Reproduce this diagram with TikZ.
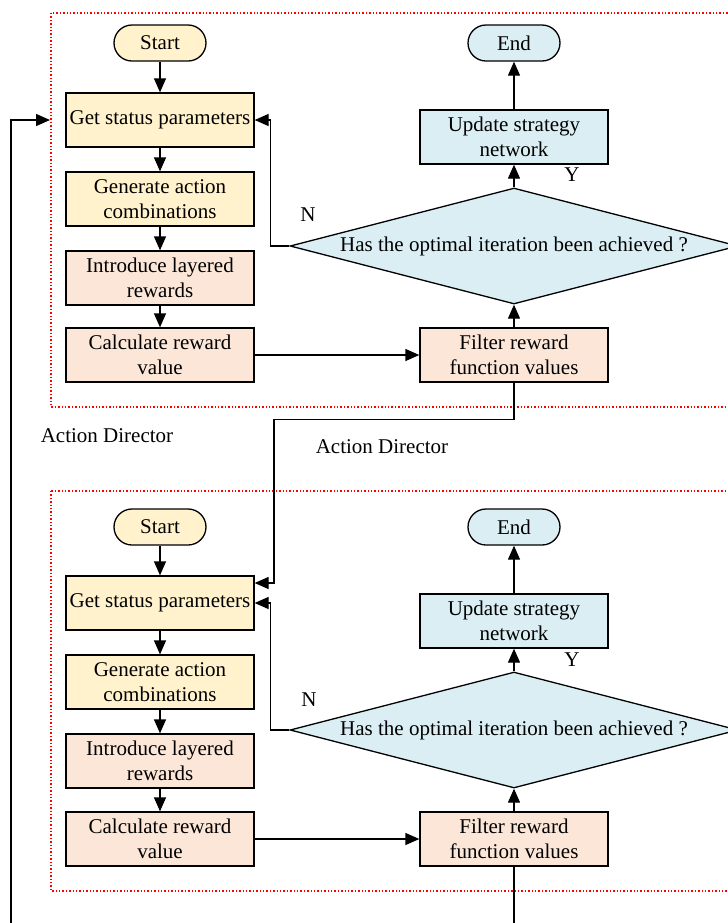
\documentclass[tikz,border=0pt]{standalone}
\usepackage{fontspec}
\setmainfont{Liberation Serif}
\usepackage{xcolor}
\usetikzlibrary{arrows.meta,shapes.geometric}

\definecolor{boxyellow}{HTML}{FFF2CC}
\definecolor{boxpeach}{HTML}{FBE6D8}
\definecolor{boxblue}{HTML}{DAEEF3}

\tikzset{
  proc/.style={draw, line width=0.65pt, minimum width=94pt, minimum height=27pt, inner sep=1pt, align=center},
  term/.style={draw, line width=0.65pt, rounded corners=9pt, minimum width=46pt, minimum height=18pt, inner sep=1pt},
  decision/.style={draw, diamond, line width=0.65pt, fill=boxblue, aspect=3.86, minimum width=224pt, minimum height=58pt, inner sep=0pt},
  frame/.style={draw=red, densely dotted, line width=0.7pt},
  arr/.style={-{Triangle[length=7pt,width=6pt]}, line width=0.65pt},
  lbl/.style={inner sep=0pt}
}

\begin{document}
\begin{tikzpicture}[x=0.5pt, y=-0.5pt, font=\fontsize{10.5}{12.5}\selectfont]
            \useasboundingbox (0,0) rectangle (728,923);

            % Cornici tratteggiate
            \draw[frame] (51,13) rectangle (745,407);
            \draw[frame] (51,491) rectangle (745,891);

            % Primo blocco
            \node[term, fill=boxyellow] (start1) at (160,43) {Start};
            \node[proc, fill=boxyellow] (get1) at (160,120) {Get status parameters};
            \node[proc, fill=boxyellow] (gen1) at (160,199) {Generate action\\combinations};
            \node[proc, fill=boxpeach] (intro1) at (160,278) {Introduce layered\\rewards};
            \node[proc, fill=boxpeach] (calc1) at (160,355) {Calculate reward\\value};
            \node[proc, fill=boxpeach] (filt1) at (514,355) {Filter reward\\function values};
            \node[decision] (dia1) at (514,246) {Has the optimal iteration been achieved ?};
            \node[proc, fill=boxblue] (upd1) at (514,137) {Update strategy\\network};
            \node[term, fill=boxblue] (end1) at (514,43) {End};
            \node[lbl] (n1) at (308,215) {N};
            \node[lbl] (y1) at (572,175) {Y};

            \draw[arr] (start1) -- (get1);
            \draw[arr] (get1) -- (gen1);
            \draw[arr] (gen1) -- (intro1);
            \draw[arr] (intro1) -- (calc1);
            \draw[arr] (calc1) -- (filt1);
            \draw[arr] (filt1) -- (dia1);
            \draw[arr] (dia1) -- (upd1);
            \draw[arr] (upd1) -- (end1);
            \draw[arr] (dia1.west) -- ++(-19,0) |- (get1.east);

            % Secondo blocco
            \node[term, fill=boxyellow] (start2) at (160,527) {Start};
            \node[proc, fill=boxyellow] (get2) at (160,603) {Get status parameters};
            \node[proc, fill=boxyellow] (gen2) at (160,682) {Generate action\\combinations};
            \node[proc, fill=boxpeach] (intro2) at (160,761) {Introduce layered\\rewards};
            \node[proc, fill=boxpeach] (calc2) at (160,839) {Calculate reward\\value};
            \node[proc, fill=boxpeach] (filt2) at (514,839) {Filter reward\\function values};
            \node[decision] (dia2) at (514,730) {Has the optimal iteration been achieved ?};
            \node[proc, fill=boxblue] (upd2) at (514,621) {Update strategy\\network};
            \node[term, fill=boxblue] (end2) at (514,527) {End};
            \node[lbl] (n2) at (309,700) {N};
            \node[lbl] (y2) at (572,660) {Y};

            \draw[arr] (start2) -- (get2);
            \draw[arr] (get2) -- (gen2);
            \draw[arr] (gen2) -- (intro2);
            \draw[arr] (intro2) -- (calc2);
            \draw[arr] (calc2) -- (filt2);
            \draw[arr] (filt2) -- (dia2);
            \draw[arr] (dia2) -- (upd2);
            \draw[arr] (upd2) -- (end2);
            \draw[arr] (dia2.west) -- ++(-19,0) |- (get2.east);

            % Etichette
            \node[lbl] (ad1) at (107,436) {Action Director};
            \node[lbl] (ad2) at (382,447) {Action Director};

            % Collegamenti tra i blocchi
            \coordinate (in1) at (50,120);
            \coordinate (in2) at ([yshift=10pt]get2.east);
            \coordinate (lbot) at (11,930);
            \coordinate (fbot) at (514,930);
            \draw[arr] (filt1.south) -- ++(0,37) -- ++(-240,0) |- (in2);
            \draw[arr] (lbot) |- (in1);
            \draw[line width=0.65pt] (filt2.south) -- (fbot);
        \end{tikzpicture}
\end{document}
